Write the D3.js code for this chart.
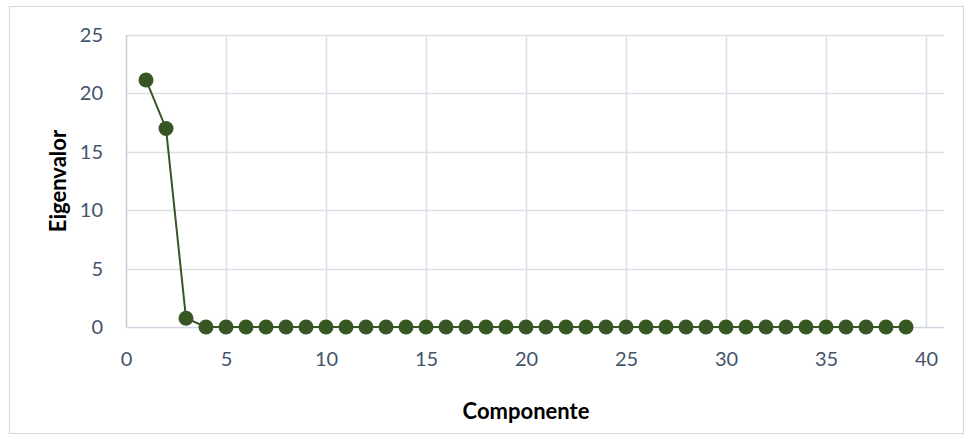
<!DOCTYPE html>
<html>
<head>
<meta charset="utf-8">
<script src="https://cdn.jsdelivr.net/npm/d3@7"></script>
<style>
  body { margin: 0; background: #fff; }
  text { font-family: Lato, "Open Sans", sans-serif; }
</style>
</head>
<body>
<div id="chart"></div>
<script>
// components 1..39 and their eigenvalues
var componentes = d3.range(1, 40);
var eigenvalores = [21.15, 17.0, 0.75, 0, 0, 0, 0, 0, 0, 0,
    0, 0, 0, 0, 0, 0, 0, 0, 0, 0,
    0, 0, 0, 0, 0, 0, 0, 0, 0, 0,
    0, 0, 0, 0, 0, 0, 0, 0, 0];
var xTicks = [0, 5, 10, 15, 20, 25, 30, 35, 40];
var yTicks = [0, 5, 10, 15, 20, 25];

var svgWidth = 974;
var svgHeight = 439;

var margin = { top: 35, right: 30, bottom: 112, left: 126 };
var width = svgWidth - margin.left - margin.right;
var height = svgHeight - margin.top - margin.bottom;

var svg = d3.select("#chart")
    .append("svg")
    .attr("width", svgWidth)
    .attr("height", svgHeight);

// chart border
svg.append("rect")
    .attr("x", 9.5).attr("y", 6.5)
    .attr("width", 954).attr("height", 427)
    .attr("fill", "#fff")
    .attr("stroke", "#D9D9D9");

var chartGroup = svg.append("g")
    .attr("transform", `translate(${margin.left}, ${margin.top})`);

// axis runs a little past 40 like the original
var xScale = d3.scaleLinear().domain([0, 40.9]).range([0, width]);
var yScale = d3.scaleLinear().domain([0, 25]).range([height, 0]);

// gridlines
chartGroup.selectAll(".hgrid")
    .data(yTicks.slice(1))
    .enter().append("line")
    .attr("x1", 0).attr("x2", width)
    .attr("y1", d => Math.round(yScale(d)) + 0.5)
    .attr("y2", d => Math.round(yScale(d)) + 0.5)
    .attr("stroke", "#D9DEE7").attr("stroke-width", 1.5);

chartGroup.selectAll(".vgrid")
    .data(xTicks.slice(1))
    .enter().append("line")
    .attr("y1", 0).attr("y2", height)
    .attr("x1", d => Math.round(xScale(d)) + 0.5)
    .attr("x2", d => Math.round(xScale(d)) + 0.5)
    .attr("stroke", "#D9DEE7").attr("stroke-width", 1.5);

// axis lines
chartGroup.append("line")
    .attr("x1", 0.5).attr("x2", 0.5).attr("y1", 0).attr("y2", height)
    .attr("stroke", "#C3CCDC").attr("stroke-width", 1.5);
chartGroup.append("line")
    .attr("x1", 0).attr("x2", width)
    .attr("y1", height + 0.5).attr("y2", height + 0.5)
    .attr("stroke", "#D0D7E3").attr("stroke-width", 1.5);

// tick labels via axes, no tick marks
var bottomAxis = d3.axisBottom(xScale).tickValues(xTicks).tickSize(0).tickPadding(25);
var leftAxis = d3.axisLeft(yScale).tickValues(yTicks).tickSize(0).tickPadding(23);

var xAxis = chartGroup.append("g")
    .attr("transform", `translate(0, ${height})`)
    .call(bottomAxis);
var yAxis = chartGroup.append("g").call(leftAxis);

[xAxis, yAxis].forEach(function(ax) {
    ax.select(".domain").remove();
    ax.selectAll("text")
        .attr("fill", "#44546A")
        .style("font-size", "20px");
});

// line + markers
var line = d3.line()
    .x((d, i) => xScale(componentes[i]))
    .y(d => yScale(d));

chartGroup.append("path")
    .datum(eigenvalores)
    .attr("d", line)
    .attr("fill", "none")
    .attr("stroke", "#375623")
    .attr("stroke-width", 2);

chartGroup.selectAll("circle")
    .data(eigenvalores)
    .enter()
    .append("circle")
    .attr("cx", (d, i) => xScale(componentes[i]))
    .attr("cy", d => yScale(d))
    .attr("r", 7.5)
    .attr("fill", "#375623");

// axis titles
svg.append("text")
    .attr("x", margin.left + xScale(20))
    .attr("y", 419)
    .attr("text-anchor", "middle")
    .style("font-size", "22px")
    .style("font-weight", "bold")
    .attr("fill", "#000")
    .text("Componente");

svg.append("text")
    .attr("transform", `translate(66, ${margin.top + height / 2}) rotate(-90)`)
    .attr("text-anchor", "middle")
    .style("font-size", "22px")
    .style("font-weight", "bold")
    .attr("fill", "#000")
    .text("Eigenvalor");
</script>
</body>
</html>
